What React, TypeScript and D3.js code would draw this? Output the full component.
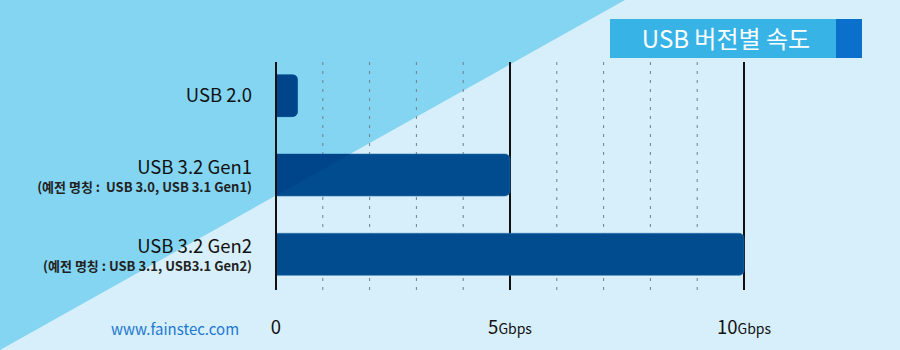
import React from "react";
import * as d3 from "d3";

const categories = ["USB 2.0", "USB 3.2 Gen1", "USB 3.2 Gen2"];
const subLabels = ["", "(예전 명칭 :  USB 3.0, USB 3.1 Gen1)", "(예전 명칭 : USB 3.1, USB3.1 Gen2)"];
const speeds = [0.46, 5, 10];
const gridValues = [1, 2, 3, 4, 6, 7, 8, 9];
const majorValues = [0, 5, 10];
const tickNumbers = ["0", "5", "10"];
const tickUnits = ["", "Gbps", "Gbps"];
const title = "USB 버전별 속도";
const site = "www.fainstec.com";

const W = 900;
const H = 350;
const FONT = "'Noto Sans CJK KR', 'Noto Sans', sans-serif";

export default function App() {
  const x = d3.scaleLinear().domain([0, 10]).range([276, 744]);
  const y = d3.scaleBand<string>().domain(categories).range([56, 294]).paddingInner(0.47).paddingOuter(0.235);
  const bh = y.bandwidth();
  const r = 5;

  const barPath = (v: number, c: string) => {
    const x0 = x(0);
    const x1 = x(v);
    const y0 = y(c)!;
    const p = d3.path();
    p.moveTo(x0, y0);
    p.lineTo(x1 - r, y0);
    p.arcTo(x1, y0, x1, y0 + r, r);
    p.lineTo(x1, y0 + bh - r);
    p.arcTo(x1, y0 + bh, x1 - r, y0 + bh, r);
    p.lineTo(x0, y0 + bh);
    p.closePath();
    return p.toString();
  };

  const triangle = `M0,0 L625,0 L0,350 Z`;
  const gridTop = 62;
  const gridBottom = 290;

  return (
    <svg width={W} height={H} style={{ position: "absolute", left: 0, top: 0, display: "block" }} fontFamily={FONT}>
      <defs>
        <clipPath id="tri">
          <path d={triangle} />
        </clipPath>
      </defs>
      <rect x={0} y={0} width={W} height={H} fill="#D7EFFA" />
      <path d={triangle} fill="#83D5F2" />

      {/* title box */}
      <rect x={610} y={19} width={226} height={39} fill="#38B3E6" />
      <rect x={836} y={19} width={26} height={39} fill="#0A70CC" />
      <text x={726} y={39} dy="0.36em" textAnchor="middle" fill="#ffffff" fontSize={24}>{title}</text>

      {/* dashed grid */}
      {gridValues.map((v) => (
        <line key={v} x1={x(v)} x2={x(v)} y1={gridTop} y2={gridBottom} stroke="#6f7f8a" strokeWidth={1} strokeDasharray="3,6" />
      ))}
      {majorValues.slice(1).map((v) => (
        <line key={v} x1={x(v)} x2={x(v)} y1={gridTop} y2={gridBottom} stroke="#111" strokeWidth={2} />
      ))}

      {/* bars */}
      {categories.map((c, i) => (
        <path key={c} d={barPath(speeds[i], c)} fill="#004C8E" stroke="#2c74b4" strokeWidth={0.6} />
      ))}
      <g clipPath="url(#tri)">
        {categories.map((c, i) => (
          <path key={c} d={barPath(speeds[i], c)} fill="#00448A" />
        ))}
      </g>

      {/* axis */}
      <line x1={x(0)} x2={x(0)} y1={gridTop} y2={gridBottom} stroke="#111" strokeWidth={2} />

      {/* category labels */}
      {categories.map((c, i) => {
        const cy = y(c)! + bh / 2;
        const hasSub = subLabels[i] !== "";
        return (
          <g key={c}>
            <text x={252} y={hasSub ? cy - 8 : cy} dy="0.36em" textAnchor="end" fontSize={18.5} fill="#111">{c}</text>
            {hasSub && (
              <text x={252} y={cy + 12} dy="0.36em" textAnchor="end" fontSize={13} fontWeight={700} fill="#222" style={{ whiteSpace: "pre" }}>{subLabels[i]}</text>
            )}
          </g>
        );
      })}

      {/* tick labels */}
      {majorValues.map((v, i) => (
        <text key={v} x={x(v)} y={328} dy="0.36em" textAnchor="middle" fill="#111">
          <tspan fontSize={18.5}>{tickNumbers[i]}</tspan>
          {tickUnits[i] && <tspan fontSize={14}>{tickUnits[i]}</tspan>}
        </text>
      ))}

      <text x={175} y={330} dy="0.36em" textAnchor="middle" fontSize={15} fill="#1C78D0">{site}</text>
    </svg>
  );
}
